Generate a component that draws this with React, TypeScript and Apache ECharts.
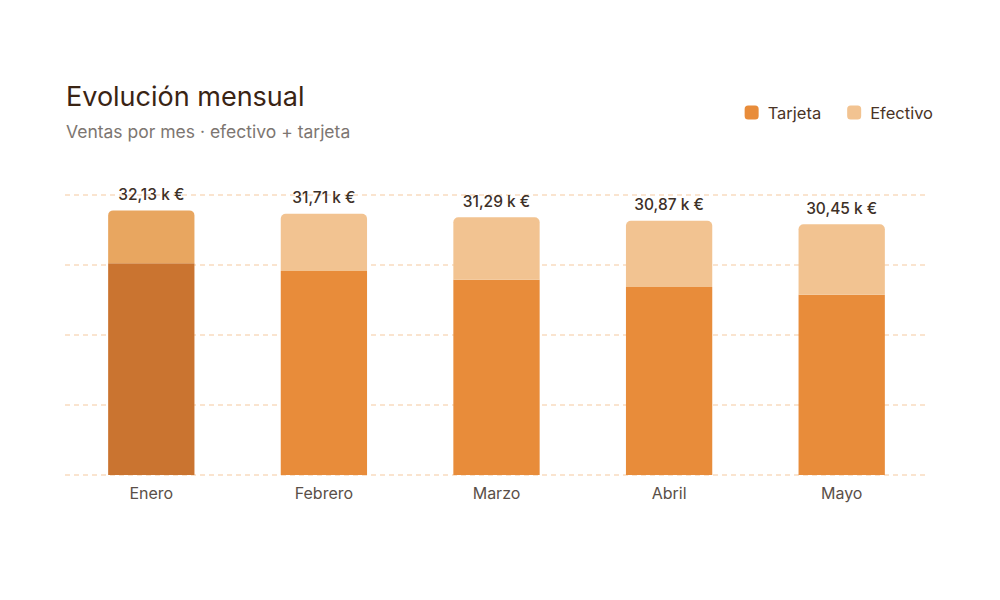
import React, { useEffect, useRef } from "react";
import * as echarts from "echarts";

const months = ["Enero", "Febrero", "Marzo", "Abril", "Mayo"];
const tarjeta = [25.71, 24.77, 23.71, 22.83, 21.89];
const totals = [32.13, 31.71, 31.29, 30.87, 30.45];
const efectivo = totals.map((t, i) => +(t - tarjeta[i]).toFixed(2));
const totalLabels = ["32,13 k €", "31,71 k €", "31,29 k €", "30,87 k €", "30,45 k €"];

const FONT = "Inter, 'Noto Sans', sans-serif";

export default function App() {
  const ref = useRef<HTMLDivElement>(null);
  useEffect(() => {
    document.body.style.margin = "0";
    const chart = echarts.init(ref.current!, null, { renderer: "svg" });
    chart.setOption({
      animation: false,
      backgroundColor: "#ffffff",
      textStyle: { fontFamily: FONT },
      title: {
        text: "Evolución mensual",
        subtext: "Ventas por mes · efectivo + tarjeta",
        left: 61,
        top: 78,
        itemGap: 12,
        textStyle: { fontFamily: FONT, fontSize: 27, fontWeight: 400, color: "#3a2414" },
        subtextStyle: { fontFamily: FONT, fontSize: 17.5, color: "#7d7671" },
      },
      legend: {
        right: 62,
        top: 99,
        icon: "roundRect",
        itemWidth: 14,
        itemHeight: 14,
        itemGap: 26,
        textStyle: { fontFamily: FONT, fontSize: 16.5, color: "#4a3426", padding: [0, 0, 0, 4] },
        data: ["Tarjeta", "Efectivo"],
      },
      grid: { left: 65, right: 72, top: 195, bottom: 125 },
      xAxis: {
        type: "category",
        data: months,
        axisLine: { show: false },
        axisTick: { show: false },
        axisLabel: { color: "#5a4f48", fontSize: 16, margin: 10, fontFamily: FONT },
      },
      yAxis: {
        type: "value",
        min: 0,
        max: 34,
        interval: 8.5,
        axisLabel: { show: false },
        axisLine: { show: false },
        axisTick: { show: false },
        splitLine: { lineStyle: { color: "#f9dcc0", type: [5, 4], width: 1.5 } },
      },
      series: [
        {
          name: "Tarjeta",
          type: "bar",
          stack: "total",
          barWidth: "50%",
          itemStyle: { color: "#e88c3a" },
          data: tarjeta.map((v, i) =>
            i === 0 ? { value: v, itemStyle: { color: "#ca7430" } } : v
          ),
        },
        {
          name: "Efectivo",
          type: "bar",
          stack: "total",
          itemStyle: { color: "#f2c391", borderRadius: [5, 5, 0, 0] },
          label: {
            show: true,
            position: "top",
            distance: 8,
            fontFamily: FONT,
            fontSize: 15.5,
            fontWeight: 500,
            color: "#3d3027",
            formatter: (p: any) => totalLabels[p.dataIndex],
          },
          data: efectivo.map((v, i) =>
            i === 0 ? { value: v, itemStyle: { color: "#e8a660", borderRadius: [5, 5, 0, 0] } } : v
          ),
        },
      ],
    });
    return () => chart.dispose();
  }, []);
  return <div ref={ref} style={{ width: 1000, height: 600 }} />;
}
